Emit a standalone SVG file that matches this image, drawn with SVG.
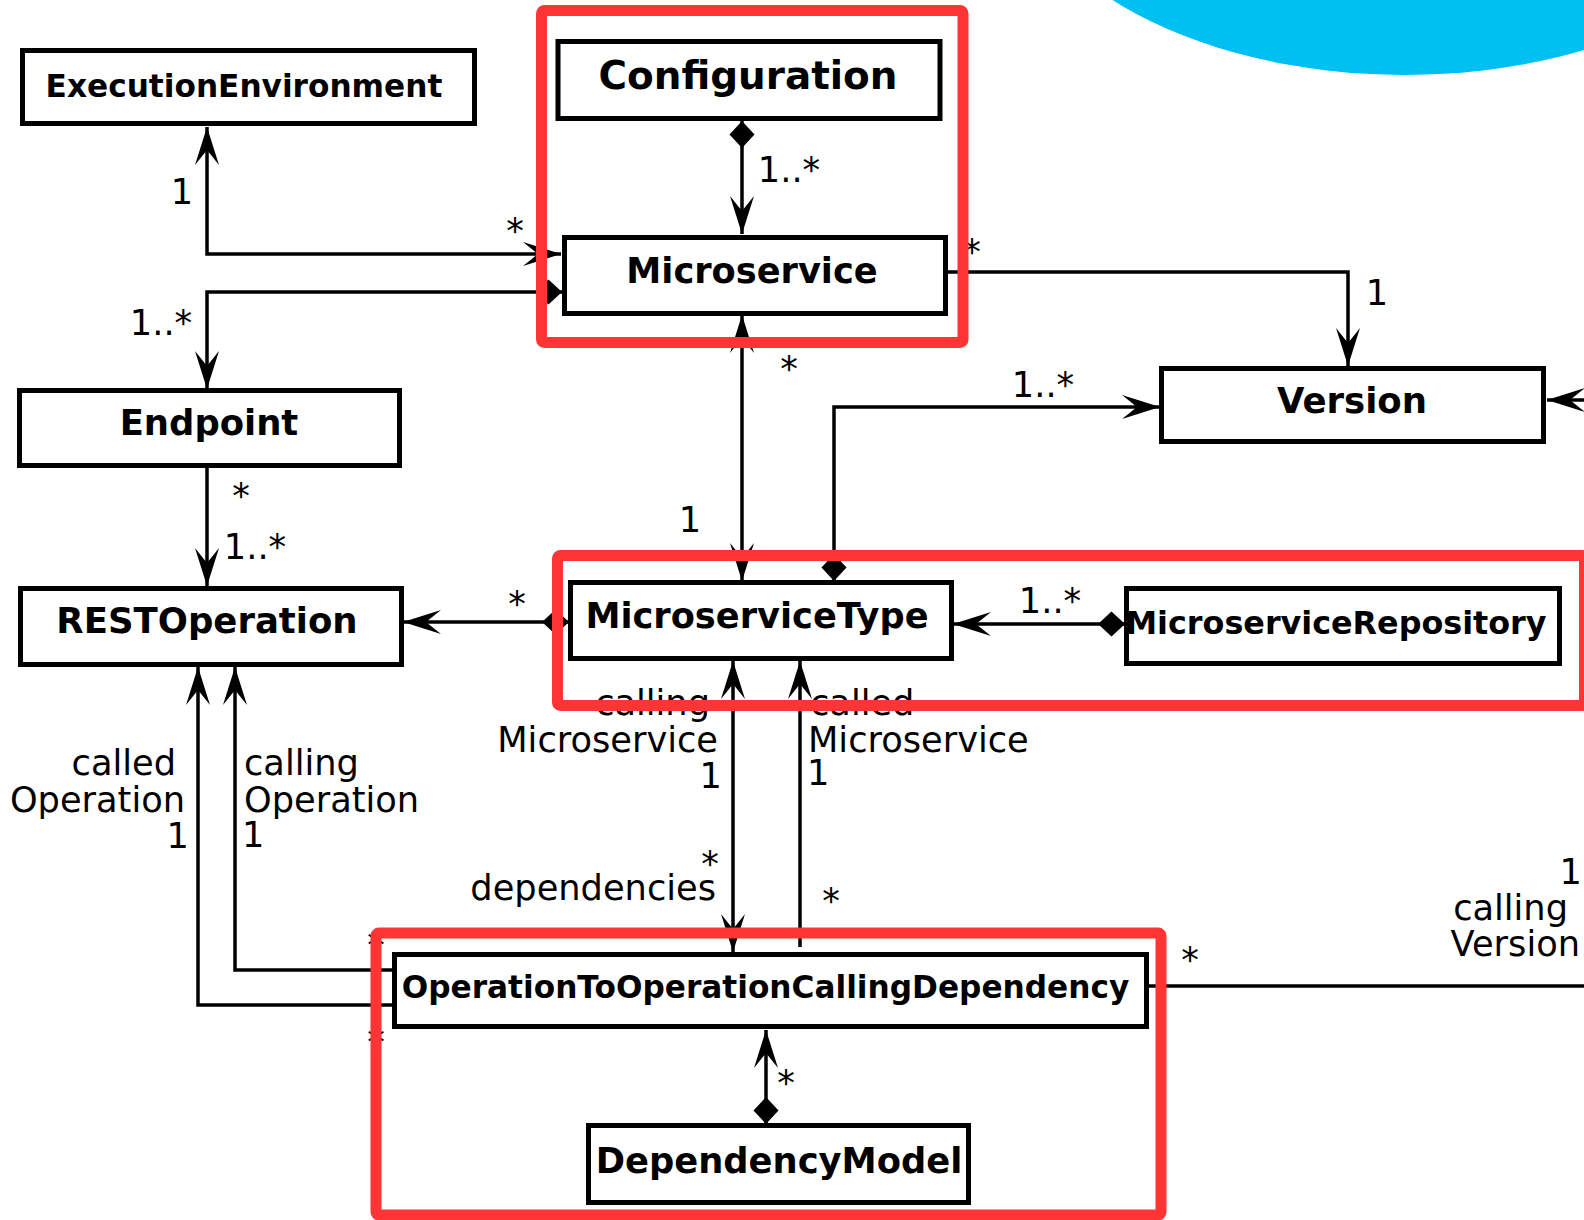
<svg xmlns="http://www.w3.org/2000/svg" width="1584" height="1220" viewBox="0 0 1584 1220">
<style>
.box{fill:#fff;stroke:#000;stroke-width:5}
.nt{font-family:"DejaVu Sans","Liberation Sans",sans-serif;font-weight:bold;text-anchor:middle;fill:#000}
.ln{fill:none;stroke:#000;stroke-width:3.5}
.lb{font-family:"DejaVu Sans","Liberation Sans",sans-serif;font-size:35.2px;fill:#000}
.m{text-anchor:middle}
.e{text-anchor:end}
.frame{fill:none;stroke:#ff3535;stroke-width:11;stroke-linejoin:round}
</style>
<defs>
<marker id="arr" markerUnits="userSpaceOnUse" markerWidth="42" markerHeight="28" viewBox="-40 -14 42 28" refX="0" refY="0" orient="auto-start-reverse">
<path d="M0,0 L-38,-12 L-23,0 L-38,12 Z" fill="#000"/>
</marker>
<marker id="dia" markerUnits="userSpaceOnUse" markerWidth="32" markerHeight="30" viewBox="-30 -15 32 30" refX="0" refY="0" orient="auto-start-reverse">
<path d="M0,0 L-13.5,-12.5 L-27,0 L-13.5,12.5 Z" fill="#000"/>
</marker>
</defs>
<rect width="1584" height="1220" fill="#fff"/>
<ellipse cx="1405" cy="-161" rx="400" ry="236" fill="#00c0f2"/>

<g id="connectors">
<path class="ln" d="M207,127 V254 H561" marker-start="url(#arr)" marker-end="url(#arr)"/>
<path class="ln" d="M562,292 H207 V389" marker-start="url(#dia)" marker-end="url(#arr)"/>
<path class="ln" d="M742,121 V234" marker-start="url(#dia)" marker-end="url(#arr)"/>
<path class="ln" d="M948,272 H1348 V366" marker-end="url(#arr)"/>
<path class="ln" d="M742,315 V581" marker-start="url(#arr)" marker-end="url(#arr)"/>
<path class="ln" d="M834,581 V407 H1160" marker-start="url(#dia)" marker-end="url(#arr)"/>
<path class="ln" d="M1590,400 H1547" marker-end="url(#arr)"/>
<path class="ln" d="M207,468 V586" marker-end="url(#arr)"/>
<path class="ln" d="M569,622 H403" marker-start="url(#dia)" marker-end="url(#arr)"/>
<path class="ln" d="M1125,624 H953" marker-start="url(#dia)" marker-end="url(#arr)"/>
<path class="ln" d="M733,661 V952" marker-start="url(#arr)" marker-end="url(#arr)"/>
<path class="ln" d="M800,661 V947" marker-start="url(#arr)"/>
<path class="ln" d="M235,667 V970 H393"  marker-start="url(#arr)"/>
<path class="ln" d="M198,667 V1005 H393" marker-start="url(#arr)"/>
<path class="ln" d="M1149,986 H1590"/>
<path class="ln" d="M766,1124 V1030" marker-start="url(#dia)" marker-end="url(#arr)"/>

<text class="lb m" x="182" y="204">1</text>
<text class="lb m" x="515" y="243">*</text>
<text class="lb m" x="161" y="335">1..*</text>
<text class="lb m" x="789" y="182">1..*</text>
<text class="lb m" x="972" y="264">*</text>
<text class="lb m" x="1377" y="305">1</text>
<text class="lb m" x="789" y="381">*</text>
<text class="lb m" x="690" y="532">1</text>
<text class="lb m" x="1043" y="397">1..*</text>
<text class="lb m" x="241" y="508">*</text>
<text class="lb m" x="255" y="559">1..*</text>
<text class="lb m" x="517" y="616">*</text>
<text class="lb m" x="1050" y="613">1..*</text>
<text class="lb e" x="710" y="715">calling</text>
<text class="lb e" x="718" y="752">Microservice</text>
<text class="lb e" x="722" y="788">1</text>
<text class="lb" x="810" y="715">called</text>
<text class="lb" x="808" y="752">Microservice</text>
<text class="lb" x="807" y="785">1</text>
<text class="lb e" x="716" y="900">dependencies</text>
<text class="lb m" x="710" y="876">*</text>
<text class="lb m" x="831" y="913">*</text>
<text class="lb e" x="176" y="775">called</text>
<text class="lb e" x="185" y="812">Operation</text>
<text class="lb e" x="189" y="848">1</text>
<text class="lb" x="244" y="775">calling</text>
<text class="lb" x="244" y="812">Operation</text>
<text class="lb" x="242" y="847">1</text>
<text class="lb m" x="376" y="957">*</text>
<text class="lb m" x="376" y="1054">*</text>
<text class="lb m" x="1190" y="972">*</text>
<text class="lb e" x="1582" y="884">1</text>
<text class="lb e" x="1568" y="920">calling</text>
<text class="lb e" x="1580" y="956">Version</text>
<text class="lb m" x="786" y="1095">*</text>
</g>

<g id="ExecutionEnvironment"><rect class="box" x="22.5" y="50.5" width="452" height="73"/><text class="nt" x="244" y="97" font-size="31.2">ExecutionEnvironment</text></g>
<g id="Configuration"><rect class="box" x="558" y="41.5" width="382" height="77"/><text class="nt" x="748" y="89" font-size="38.9">Configuration</text></g>
<g id="Microservice"><rect class="box" x="564.5" y="237.5" width="381" height="76"/><text class="nt" x="752" y="283" font-size="35.2">Microservice</text></g>
<g id="Endpoint"><rect class="box" x="19.5" y="390.5" width="380" height="75"/><text class="nt" x="209" y="435" font-size="35.4">Endpoint</text></g>
<g id="Version"><rect class="box" x="1161.5" y="368.5" width="382" height="73"/><text class="nt" x="1352" y="413" font-size="35.5">Version</text></g>
<g id="RESTOperation"><rect class="box" x="20.5" y="588.5" width="381" height="76"/><text class="nt" x="207" y="633" font-size="35.5">RESTOperation</text></g>
<g id="MicroserviceType"><rect class="box" x="570.5" y="582.5" width="381" height="76"/><text class="nt" x="757" y="628" font-size="35.2">MicroserviceType</text></g>
<g id="MicroserviceRepository"><rect class="box" x="1126.5" y="588.5" width="433" height="75"/><text class="nt" x="1336" y="634" font-size="31.8">MicroserviceRepository</text></g>
<g id="OperationToOperationCallingDependency"><rect class="box" x="394.5" y="954.5" width="752" height="72"/><text class="nt" x="765.5" y="998" font-size="31.2">OperationToOperationCallingDependency</text></g>
<g id="DependencyModel"><rect class="box" x="588.5" y="1125.5" width="380" height="77"/><text class="nt" x="779" y="1173" font-size="35.3">DependencyModel</text></g>

<g id="highlights">
<rect class="frame" x="541.5" y="10.5" width="421.5" height="332" rx="3"/>
<rect class="frame" x="557.5" y="555.5" width="1027" height="150" rx="3"/>
<rect class="frame" x="376" y="933" width="785" height="282" rx="3"/>
</g>
</svg>
